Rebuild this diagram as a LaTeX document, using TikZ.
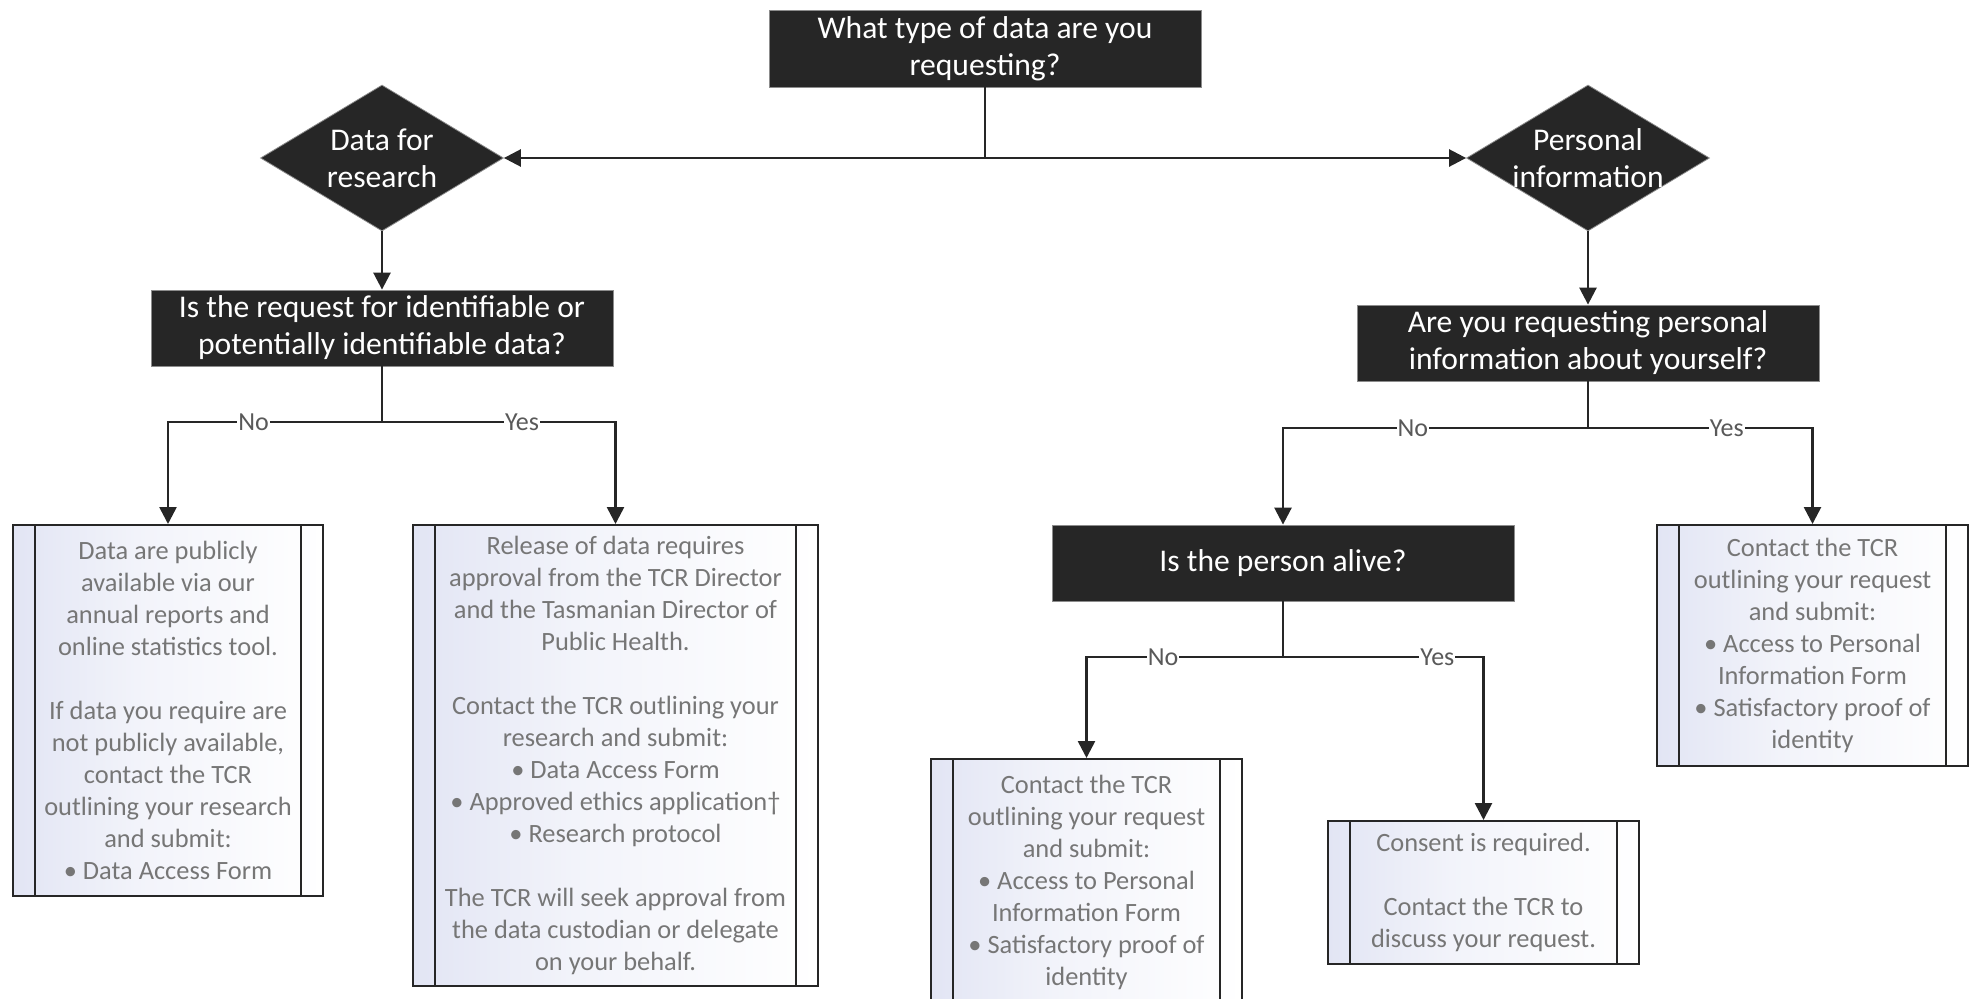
\documentclass[tikz,border=0pt]{standalone}
\usepackage{fontspec}
\setmainfont{Carlito}
\usetikzlibrary{arrows.meta,shapes.geometric}
\definecolor{dark}{HTML}{262626}
\definecolor{txtgrey}{HTML}{767676}
\definecolor{lblgrey}{HTML}{595959}
\definecolor{leafblue}{HTML}{E2E5F4}
\pgfdeclarehorizontalshading{leafshade}{100bp}{color(0bp)=(leafblue); color(25bp)=(leafblue); color(45bp)=(leafblue!45!white); color(75bp)=(white); color(100bp)=(white)}
\begin{document}
\begin{tikzpicture}[x=1pt,y=-1pt,
 qbox/.style={rectangle, fill=dark, draw=black!45, line width=0.8pt, text=white,
   font=\fontsize{31.6}{37}\selectfont, align=center, inner sep=0pt,
   minimum width=462pt, minimum height=76pt},
 dia/.style={diamond, fill=dark, draw=black!45, line width=0.8pt, inner sep=0pt,
   minimum width=243pt, minimum height=146pt},
 dtext/.style={text=white, font=\fontsize{31.6}{37}\selectfont, align=center, inner sep=0pt},
 leaf/.style={rectangle, draw=dark, line width=2pt, shading=leafshade,
   text=txtgrey, font=\fontsize{26.4}{32}\selectfont, align=center, inner sep=0pt},
 sideline/.style={draw=dark, line width=2pt},
 conn/.style={draw=dark, line width=2.6pt},
 arr/.style={conn, -{Triangle[length=17pt,width=17pt]}},
 lbl/.style={fill=white, text=lblgrey, font=\fontsize{26}{30}\selectfont, inner sep=1pt},
]
\useasboundingbox (0,0) rectangle (1974,999);

% decision boxes
\node[qbox, minimum width=432pt, minimum height=77pt] (q1) at (985,48.5) {What type of data are you\\requesting?};
\node[dia] (d1) at (382,158) {};
\node[dtext] (d1t) at (d1.center) {Data for\\research};
\node[dia] (d2) at (1588,158) {};
\node[dtext] (d2t) at (d2.center) {Personal\\information};
\node[qbox] (q2) at (382,328) {Is the request for identifiable or\\potentially identifiable data?};
\node[qbox] (q3) at (1588,343) {Are you requesting personal\\information about yourself?};
\node[qbox] (q4) at (1283,563) {Is the person alive?};

% leaf boxes
\node[leaf, minimum width=310pt, minimum height=371pt] (L1) at (168,710.5)
 {Data are publicly\\available via our\\annual reports and\\online statistics tool.\\[32pt]If data you require are\\not publicly available,\\contact the TCR\\outlining your research\\and submit:\\• Data Access Form};
\node[leaf, minimum width=405pt, minimum height=461pt] (L2) at (615.5,755.5)
 {Release of data requires\\approval from the TCR Director\\and the Tasmanian Director of\\Public Health.\\[32pt]Contact the TCR outlining your\\research and submit:\\• Data Access Form\\• Approved ethics application†\\• Research protocol\\[32pt]The TCR will seek approval from\\the data custodian or delegate\\on your behalf.};
\node[leaf, minimum width=311pt, minimum height=241pt] (L3) at (1812.5,645.5)
 {Contact the TCR\\outlining your request\\and submit:\\• Access to Personal\\Information Form\\• Satisfactory proof of\\identity};
\node[leaf, minimum width=311pt, minimum height=247pt] (L4) at (1086.5,882.5)
 {Contact the TCR\\outlining your request\\and submit:\\• Access to Personal\\Information Form\\• Satisfactory proof of\\identity};
\node[leaf, minimum width=311pt, minimum height=143pt] (L5) at (1483.5,892.5)
 {Consent is required.\\[32pt]Contact the TCR to\\discuss your request.};

\foreach \n in {L1,L2,L3,L4,L5}{
  \draw[sideline] ([xshift=23pt]\n.north west) -- ([xshift=23pt]\n.south west);
  \draw[sideline] ([xshift=-23pt]\n.north east) -- ([xshift=-23pt]\n.south east);
}

% connectors
\coordinate (j1) at (985,158);
\draw[conn] (q1.south) -- (j1);
\draw[arr] (j1) -- (d1.east);
\draw[arr] (j1) -- (d2.west);
\draw[arr] (d1.south) -- (q2.north);
\draw[arr] (d2.south) -- (q3.north);

\coordinate (j2) at (382,422);
\draw[conn] (q2.south) -- (j2);
\draw[arr] (j2) -- node[lbl,pos=0.6]{No} (j2 -| L1.north) -- (L1.north);
\draw[arr] (j2) -- node[lbl,pos=0.6]{Yes} (j2 -| L2.north) -- (L2.north);

\coordinate (j3) at (1588,428);
\draw[conn] (q3.south) -- (j3);
\draw[arr] (j3) -- node[lbl,pos=0.574]{No} (j3 -| q4.north) -- (q4.north);
\draw[arr] (j3) -- node[lbl,pos=0.618]{Yes} (j3 -| L3.north) -- (L3.north);

\coordinate (j4) at (1283,657);
\draw[conn] (q4.south) -- (j4);
\draw[arr] (j4) -- node[lbl,pos=0.61]{No} (j4 -| L4.north) -- (L4.north);
\draw[arr] (j4) -- node[lbl,pos=0.77]{Yes} (j4 -| L5.north) -- (L5.north);
\end{tikzpicture}
\end{document}
